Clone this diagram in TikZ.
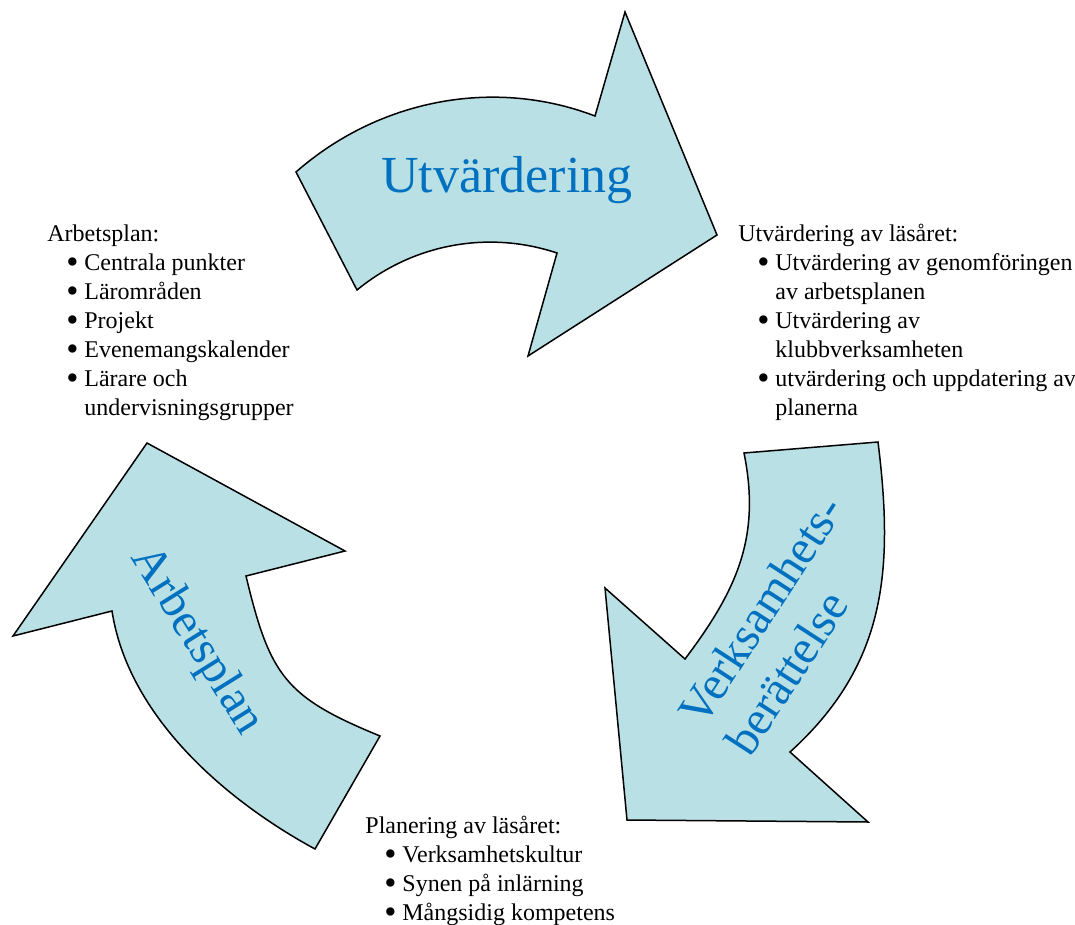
\documentclass[tikz,border=0pt]{standalone}
\usepackage{fontspec}
\setmainfont{Liberation Serif}
\definecolor{arrowfill}{RGB}{185,224,228}
\definecolor{textblue}{RGB}{0,112,192}
\newcommand{\bul}{\hspace*{9.5pt}\makebox[9pt][l]{\raisebox{-1.6pt}{\scalebox{1.45}{\textbullet}}}}
\newcommand{\ind}{\hspace*{18.5pt}}
\tikzset{
  arrowshape/.style={fill=arrowfill, draw=black, line width=0.75pt, line join=miter},
  bigtext/.style={text=textblue, font=\fontsize{26}{30}\selectfont, inner sep=0pt},
  listtext/.style={font=\fontsize{12}{14.5}\selectfont, align=left, inner sep=0pt, anchor=north west}
}
\begin{document}
\begin{tikzpicture}[x=0.5pt, y=-0.5pt]
\useasboundingbox (0,0) rectangle (1075,925);
% top arrow
\filldraw[arrowshape] (357,290) -- (296,172)
  .. controls (378,100) and (493,77) .. (595,116)
  -- (625,12) -- (717,235) -- (528,356) -- (557,253)
  .. controls (488,230) and (413,244) .. (357,290) -- cycle;
% right arrow
\filldraw[arrowshape] (744,453) -- (878,442)
  .. controls (894,571) and (886,665) .. (790,752)
  -- (868,822) -- (627,820) -- (605,588) -- (685,659)
  .. controls (737,590) and (761,537) .. (744,453) -- cycle;
% left arrow
\filldraw[arrowshape] (147,443) -- (345,551) -- (246,576)
  .. controls (270,676) and (285,697) .. (380,736)
  -- (315,849)
  .. controls (223,799) and (128,715) .. (112,611)
  -- (13,636) -- cycle;
% arrow labels
\node[bigtext, anchor=base] (utv) at (507,193) {Utvärdering};
\node[bigtext, rotate=-58, font=\fontsize{24}{28}\selectfont] (arb) at (196,641) {Arbetsplan};
\node[bigtext, rotate=57, align=left, font=\fontsize{24}{28}\selectfont] (verk) at (784,625) {Verksamhets-\\berättelse};
% lists
\node[listtext] (listA) at (47,224.5) {Arbetsplan:\\
\bul Centrala punkter\\
\bul Lärområden\\
\bul Projekt\\
\bul Evenemangskalender\\
\bul Lärare och\\
\ind undervisningsgrupper};
\node[listtext] (listU) at (738,223.5) {Utvärdering av läsåret:\\
\bul Utvärdering av genomföringen\\
\ind av arbetsplanen\\
\bul Utvärdering av\\
\ind klubbverksamheten\\
\bul utvärdering och uppdatering av\\
\ind planerna};
\node[listtext] (listP) at (365,815.5) {Planering av läsåret:\\
\bul Verksamhetskultur\\
\bul Synen på inlärning\\
\bul Mångsidig kompetens};
\end{tikzpicture}
\end{document}
